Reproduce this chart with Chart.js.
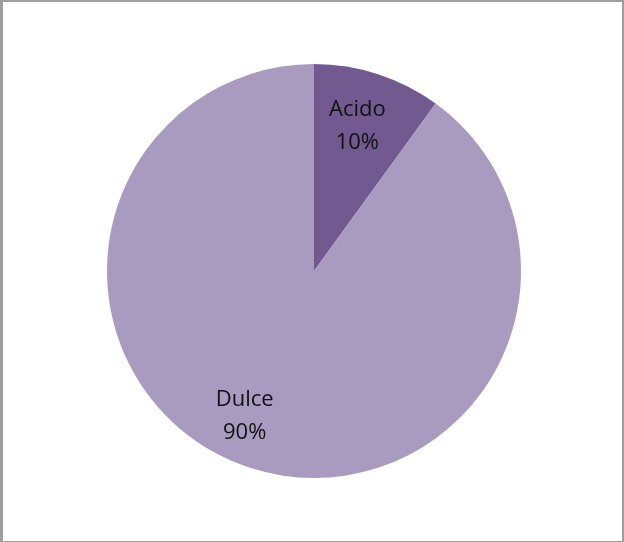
<!DOCTYPE html>
<html>
<head>
<meta charset="utf-8">
<script src="https://cdn.jsdelivr.net/npm/chart.js@4"></script>
<style>
  html, body { margin: 0; padding: 0; background: #fff; }
  #frame {
    position: absolute; left: 0; top: 0; width: 624px; height: 542px;
    box-sizing: border-box; background: #fff;
    border-style: solid; border-color: #9e9e9e;
    border-width: 2px 2px 1px 3px;
  }
  #chart { position: absolute; left: 0; top: 0; }
</style>
</head>
<body>
<div id="frame"></div>
<canvas id="chart" width="624" height="542"></canvas>
<script>
const labels = ['Acido', 'Dulce'];
const values = [10, 90];
const colors = ['#72598f', '#a89bbf'];

// etiquetas dentro de cada porción (nombre + porcentaje)
const sliceLabels = {
  id: 'sliceLabels',
  afterDatasetsDraw(chart) {
    const ctx = chart.ctx;
    const meta = chart.getDatasetMeta(0);
    const total = values.reduce((a, b) => a + b, 0);
    const nudge = [[-4, 0], [-22, -1]];
    ctx.save();
    ctx.fillStyle = '#111';
    ctx.font = '22px "Open Sans", "Liberation Sans", sans-serif';
    ctx.textAlign = 'center';
    ctx.textBaseline = 'middle';
    meta.data.forEach((arc, i) => {
      const { x, y, startAngle, endAngle, outerRadius } = arc.getProps(['x', 'y', 'startAngle', 'endAngle', 'outerRadius'], true);
      const mid = (startAngle + endAngle) / 2;
      const r = outerRadius * 0.74;
      const cx = x + Math.cos(mid) * r + nudge[i][0];
      const cy = y + Math.sin(mid) * r + nudge[i][1];
      const pct = Math.round(values[i] / total * 100) + '%';
      ctx.fillText(labels[i], cx, cy - 16);
      ctx.fillText(pct, cx, cy + 17);
    });
    ctx.restore();
  }
};

new Chart(document.getElementById('chart'), {
  type: 'pie',
  data: {
    labels: labels,
    datasets: [{
      data: values,
      backgroundColor: colors,
      borderWidth: 0,
    }],
  },
  options: {
    responsive: false,
    animation: false,
    layout: { padding: { top: 64, bottom: 64, left: 107, right: 103 } },
    plugins: { legend: { display: false }, tooltip: { enabled: false } },
  },
  plugins: [sliceLabels],
});
</script>
</body>
</html>
